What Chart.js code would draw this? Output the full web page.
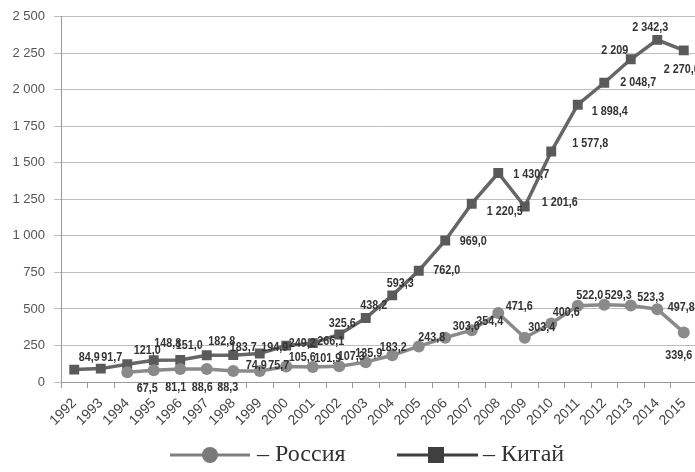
<!DOCTYPE html>
<html>
<head>
<meta charset="utf-8">
<script src="https://cdn.jsdelivr.net/npm/chart.js@4"></script>
<style>
  html, body { margin: 0; padding: 0; background: #fff; overflow: hidden; }
  /* область чуть шире окна: правый край сетки уходит за край */
  #wrap { width: 704px; height: 472px; position: relative; }
</style>
</head>
<body>
<div id="wrap"><canvas id="chart"></canvas></div>
<script>
  // годы по оси X
  const years = ['1992', '1993', '1994', '1995', '1996', '1997', '1998', '1999', '2000', '2001', '2002', '2003',
    '2004', '2005', '2006', '2007', '2008', '2009', '2010', '2011', '2012', '2013', '2014', '2015'];

  // значения как в подписях (строкой, чтобы сохранить запись)
  const chinaValues = ['84.9', '91.7', '121.0', '148.8', '151.0', '182.8', '183.7', '194.9', '249.2', '266.1',
    '325.6', '438.2', '593.3', '762.0', '969.0', '1220.5', '1430.7', '1201.6', '1577.8', '1898.4', '2048.7',
    '2209', '2342.3', '2270.0'];
  const russiaValues = [null, null, '67.5', '81.1', '88.6', '88.3', '74.9', '75.7', '105.6', '101.9', '107.3',
    '135.9', '183.2', '243.8', '303.6', '354.4', '471.6', '303.4', '400.6', '522.0', '529.3', '523.3', '497.8',
    '339.6'];

  const yTicks = [0, 250, 500, 750, 1000, 1250, 1500, 1750, 2000, 2250, 2500];

  // сдвиг подписей относительно точки [dx, dy]
  const chinaShift = [[15, -12], [11, -11], [20, -14], [14, -17], [9, -15], [15, -14], [10, -8], [15, -6],
    [16, -2], [18, -2], [3, -11], [8, -13], [8, -12], [28, 0], [28, 1], [33, 8], [33, 1], [35, -4], [39, -8],
    [32, 7], [34, 0], [-16, -9], [-7, -12], [-2, 19]];
  const russiaShift = [null, null, [20, 16], [22, 17], [22, 18], [21, 18], [23, -6], [19, -6], [16, -9],
    [15, -9], [12, -10], [3, -9], [1, -8], [13, -9], [21, -11], [18, -9], [21, -7], [17, -10], [15, -11],
    [12, -10], [14, -9], [20, -8], [24, -2], [-5, 23]];

  function spaced(intPart) {
    return intPart.replace(/\B(?=(\d{3})+(?!\d))/g, ' ');
  }
  function fmt(raw) {
    const parts = raw.split('.');
    return spaced(parts[0]) + (parts.length > 1 ? ',' + parts[1] : '');
  }

  // подписи значений узким жирным шрифтом
  const valueLabels = {
    id: 'valueLabels',
    afterDatasetsDraw(chart) {
      const ctx = chart.ctx;
      const squeeze = 0.83;
      ctx.save();
      ctx.font = 'bold 13px "Liberation Sans", Arial, sans-serif';
      ctx.fillStyle = '#333';
      ctx.textAlign = 'center';
      ctx.textBaseline = 'middle';
      chart.data.datasets.forEach((ds, i) => {
        const meta = chart.getDatasetMeta(i);
        meta.data.forEach((pt, j) => {
          const raw = ds.raw[j];
          if (raw == null) return;
          const s = ds.shift[j];
          ctx.save();
          ctx.translate(pt.x + s[0], pt.y + s[1]);
          ctx.scale(squeeze, 1);
          ctx.fillText(fmt(raw), 0, 0);
          ctx.restore();
        });
      });
      ctx.restore();
    }
  };

  // легенда внизу: линия с маркером и подпись
  const bottomLegend = {
    id: 'bottomLegend',
    afterDraw(chart) {
      const ctx = chart.ctx;
      const y = 455;
      ctx.save();
      ctx.lineWidth = 3;
      ctx.strokeStyle = '#7f7f7f';
      ctx.beginPath(); ctx.moveTo(170, y); ctx.lineTo(250, y); ctx.stroke();
      ctx.fillStyle = '#7a7a7a';
      ctx.beginPath(); ctx.arc(210, y, 8, 0, Math.PI * 2); ctx.fill();

      ctx.strokeStyle = '#3f3f3f';
      ctx.beginPath(); ctx.moveTo(397, y); ctx.lineTo(478, y); ctx.stroke();
      ctx.fillStyle = '#3f3f3f';
      ctx.fillRect(428, y - 8, 16, 16);

      ctx.fillStyle = '#333';
      ctx.font = '24px "Liberation Serif", "DejaVu Serif", serif';
      ctx.textBaseline = 'middle';
      ctx.textAlign = 'left';
      ctx.fillText('– Россия', 257, y);
      ctx.fillText('– Китай', 483, y);
      ctx.restore();
    }
  };

  const ctx = document.getElementById('chart').getContext('2d');
  const chart = new Chart(ctx, {
    type: 'line',
    data: {
      labels: years,
      datasets: [
        {
          label: 'Россия',
          raw: russiaValues,
          shift: russiaShift,
          data: russiaValues.map(v => v == null ? null : Number(v)),
          borderColor: '#8a8a8a',
          backgroundColor: '#8a8a8a',
          borderWidth: 3.5,
          pointStyle: 'circle',
          pointRadius: 6,
          pointBorderWidth: 0,
          tension: 0
        },
        {
          label: 'Китай',
          raw: chinaValues,
          shift: chinaShift,
          data: chinaValues.map(Number),
          borderColor: '#666',
          backgroundColor: '#5a5a5a',
          borderWidth: 3.5,
          pointStyle: 'rect',
          pointRadius: 7,
          pointBorderWidth: 0,
          tension: 0
        }
      ]
    },
    options: {
      responsive: true,
      maintainAspectRatio: false,
      animation: false,
      layout: { padding: { top: 13, right: 0, bottom: 40, left: 0 } },
      plugins: {
        legend: { display: false },
        tooltip: { enabled: false }
      },
      scales: {
        x: {
          offset: true,
          grid: { offset: true, drawOnChartArea: false, tickLength: 6, color: '#999' },
          border: { color: '#999' },
          ticks: {
            maxRotation: 45,
            minRotation: 45,
            autoSkip: false,
            padding: 7,
            color: '#444',
            font: { family: '"Liberation Sans", Arial, sans-serif', size: 14 }
          },
          afterFit(scale) {
            scale.height = 50;
          }
        },
        y: {
          min: 0,
          max: 2500,
          afterBuildTicks(scale) { scale.ticks = yTicks.map(v => ({ value: v })); },
          grid: { color: '#bdbdbd', tickLength: 7, lineWidth: 1 },
          border: { color: '#999' },
          ticks: {
            padding: 9,
            color: '#555',
            font: { family: '"Liberation Sans", Arial, sans-serif', size: 13 },
            callback: v => spaced(String(v))
          },
          afterFit(scale) { scale.width = 61; }
        }
      }
    },
    plugins: [valueLabels, bottomLegend]
  });
</script>
</body>
</html>
